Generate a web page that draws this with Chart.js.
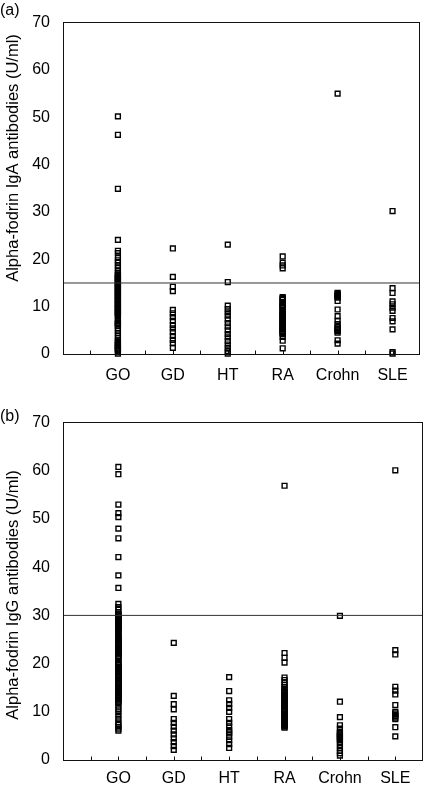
<!DOCTYPE html>
<html><head><meta charset="utf-8">
<script src="https://cdn.jsdelivr.net/npm/chart.js@4"></script>
<style>
html,body{margin:0;padding:0;background:#fff;}
canvas{position:absolute;left:0;}
#ca{top:0;}
#cb{top:400px;}
</style></head><body>
<canvas id="ca" width="432" height="400"></canvas>
<canvas id="cb" width="432" height="390"></canvas>
<script>
const categories = ['GO', 'GD', 'HT', 'RA', 'Crohn', 'SLE'];
const yTickValues = [0, 10, 20, 30, 40, 50, 60, 70];

// Panel (a): IgA (U/ml)
const igaGO = [50.2, 46.3, 34.9, 24.1, 21.8, 21.3, 20.4, 19.8, 19.3, 18.7, 18.2, 17.6,
  17.1, 16.8, 16.7, 16.4, 16.3, 16.1, 15.8, 15.7, 15.5, 15.2, 15.1, 14.9, 14.6, 14.5, 14.3, 14.0, 13.9, 13.7,
  13.4, 13.3, 13.1, 12.9, 12.6, 12.5, 12.3, 12.0, 11.9, 11.7, 11.4, 11.3, 11.1, 10.9, 10.6, 10.5, 10.3, 10.0,
  9.9, 9.7, 9.5, 9.3, 9.0, 8.9, 8.7, 8.4, 8.3, 8.1, 7.9, 7.1, 6.9, 6.6, 6.5, 6.3, 6.0, 5.9,
  5.4, 4.9, 4.4, 3.9, 3.4, 2.9, 2.6, 2.4, 2.2, 1.9, 1.8, 1.6, 1.3, 1.2, 1.0, 0.8, 0.6, 0.1];
const igaGD = [22.3, 16.3, 14.2, 13.3, 9.3, 8.6, 7.8, 7.0, 6.1, 5.4, 4.6, 3.8, 3.0, 2.3, 1.3];
const igaHT = [23.1, 15.2, 10.2, 9.5, 8.8, 8.1, 7.3, 6.5, 5.8, 5.0, 4.2, 3.5, 2.7, 2.0, 1.3, 0.6, 0.1];
const igaRA = [20.6, 19.3, 18.7, 18.1, 12.0, 11.8, 11.6, 11.4, 10.9, 10.7, 10.4, 10.3, 10.1, 9.8, 9.7,
  9.2, 9.0, 8.8, 8.5, 8.4, 8.2, 7.9, 7.8, 7.6, 7.4, 7.1, 7.0, 6.8, 6.5, 6.4, 6.2, 6.0, 5.8, 5.5, 5.4,
  5.2, 4.9, 4.8, 4.6, 4.4, 4.2, 3.6, 2.8, 1.2];
const igaCrohn = [55.0, 12.9, 12.7, 12.5, 12.3, 12.1, 11.9, 11.2, 9.4, 8.0, 7.0, 6.3, 5.7, 5.4, 5.2, 5.0, 4.8, 4.5, 2.9, 2.2];
const igaSLE = [30.2, 13.9, 12.9, 11.1, 10.5, 9.8, 9.1, 7.6, 6.9, 5.2, 0.4, 0.1];
const igaCutoff = 15;

// Panel (b): IgG (U/ml)
const iggGO = [60.8, 59.3, 53.0, 51.2, 50.4, 48.0, 46.0, 42.1, 38.3, 35.7, 32.4, 31.7, 31.2, 30.6,
  30.2, 30.0, 29.8, 29.5, 29.4, 29.2, 28.9, 28.8, 28.6, 28.4, 28.1, 28.0, 27.8, 27.5, 27.4, 27.2, 27.0, 26.8, 26.6,
  25.9, 25.7, 25.5, 25.3, 25.1, 24.9, 24.6, 24.5, 24.3, 24.1, 23.9, 23.6, 23.5, 23.3, 23.0, 22.9, 22.7, 22.5,
  22.2, 22.1, 21.9, 21.6, 21.5, 21.3, 21.1, 20.3, 20.1, 19.9, 19.7, 19.4, 19.3, 19.1, 18.9, 18.6, 18.5, 18.3,
  18.1, 17.9, 17.6, 17.5, 17.3, 17.1, 16.9, 16.6, 16.5, 16.3, 16.0, 15.9, 15.7, 15.5, 15.2, 15.1, 14.9, 14.7,
  14.4, 14.3, 14.1, 13.9, 13.6, 13.5, 13.3, 13.1, 12.9, 12.6, 12.5, 12.3, 12.0, 11.8,
  11.1, 10.5, 9.9, 9.2, 8.5, 7.8, 7.3, 6.9, 6.5, 6.1];
const iggGD = [24.3, 13.3, 11.6, 10.5, 8.5, 7.7, 6.9, 6.1, 5.3, 4.5, 3.7, 2.9, 2.1];
const iggHT = [17.2, 14.3, 12.4, 11.6, 10.8, 10.0, 8.5, 7.7, 7.0, 6.2, 5.8, 5.5, 4.8, 4.1, 3.3, 2.5];
const iggRA = [56.9, 22.2, 21.2, 20.2, 17.1, 16.6, 16.1, 15.6, 15.2, 14.8, 14.4, 14.1, 13.9, 13.6, 13.5,
  13.3, 13.0, 12.9, 12.7, 12.4, 12.3, 12.1, 11.9, 11.7, 11.4, 11.3, 11.1, 10.9, 10.6, 10.5, 10.3, 10.1,
  9.9, 9.6, 9.5, 9.3, 9.0, 8.9, 8.7, 8.5, 8.2, 8.1, 7.9, 7.7, 7.4, 7.3, 7.1, 6.9, 6.7];
const iggCrohn = [29.9, 12.1, 8.9, 7.2, 6.5, 5.8, 5.6, 5.3, 5.1, 4.9, 4.6, 4.4, 4.1, 3.7, 3.1, 2.5, 1.9, 1.4, 0.9];
const iggSLE = [60.1, 22.8, 21.9, 15.2, 14.4, 13.6, 11.4, 10.0, 9.7, 9.4, 9.1, 8.8, 8.5, 6.8, 4.9];
const iggCutoff = 30;

const FONT = "'Liberation Sans', Arial, Helvetica, sans-serif";

const framePlugin = {
  id: 'frame',
  afterDraw(chart, args, o) {
    const ctx = chart.ctx, a = chart.chartArea;
    const L = Math.floor(a.left) + 0.5, R = Math.floor(a.right) - 0.5;
    const T = Math.floor(a.top) + 0.5, B = Math.floor(a.bottom) + 0.5;
    ctx.save();
    ctx.strokeStyle = '#111';
    ctx.lineWidth = 1;
    ctx.strokeRect(L, T, R - L, B - T);
    const xs = chart.scales.x;
    ctx.beginPath();
    for (let i = 1; i <= categories.length * 2; i++) {
      const px = Math.round(xs.getPixelForValue(i / 2)) + 0.5;
      ctx.moveTo(px, B);
      ctx.lineTo(px, B - 4);
    }
    ctx.stroke();
    ctx.fillStyle = '#000';
    ctx.font = '16px ' + FONT;
    ctx.textAlign = 'left';
    ctx.textBaseline = 'middle';
    ctx.fillText(o.label, 0, o.labelY);
    ctx.translate(o.titleX, o.titleY);
    ctx.rotate(-Math.PI / 2);
    ctx.textAlign = 'center';
    ctx.font = '16.5px ' + FONT;
    ctx.fillText(o.title, 0, 0);
    ctx.restore();
  }
};

function makeChart(id, groups, cutoff, cfg) {
  const pts = [];
  groups.forEach((arr, i) => arr.forEach(v => pts.push({x: i + 1, y: v})));
  const xTicks = [];
  for (let i = 0; i <= categories.length * 2 + 1; i++) xTicks.push(i / 2);
  return new Chart(document.getElementById(id), {
    type: 'scatter',
    data: {
      datasets: [
        {type: 'line', data: [{x: 0, y: cutoff}, {x: categories.length + 0.5, y: cutoff}],
         borderColor: '#333', borderWidth: 1, pointRadius: 0, fill: false},
        {data: pts, pointStyle: 'rect', pointRadius: 3.4, pointHoverRadius: 3.4,
         borderColor: '#000', backgroundColor: 'rgba(0,0,0,0)', borderWidth: 1.4, clip: false}
      ]
    },
    options: {
      responsive: false, animation: false, events: [],
      layout: {padding: {left: 0, right: 1, top: cfg.top, bottom: 0}},
      plugins: {legend: {display: false}, tooltip: {enabled: false},
        frame: {label: cfg.label, labelY: cfg.labelY, title: cfg.title, titleX: 13, titleY: cfg.titleY}},
      scales: {
        x: {type: 'linear', min: 0, max: categories.length + 0.5,
            afterBuildTicks: s => { s.ticks = xTicks.map(v => ({value: v})); },
            afterFit: s => { s.height = cfg.xh; },
            ticks: {autoSkip: false, maxRotation: 0, minRotation: 0, padding: cfg.xpad, color: '#000',
                    font: {family: FONT, size: 16},
                    callback: v => (Number.isInteger(v) && v >= 1 && v <= categories.length) ? categories[v - 1] : ''},
            grid: {display: false, drawTicks: false}, border: {display: false}},
        y: {type: 'linear', min: 0, max: 70,
            afterBuildTicks: s => { s.ticks = yTickValues.map(v => ({value: v})); },
            afterFit: s => { s.width = 63; },
            ticks: {padding: 13, color: '#000', font: {family: FONT, size: 16}},
            grid: {display: false, drawTicks: false}, border: {display: false}}
      }
    },
    plugins: [framePlugin]
  });
}

makeChart('ca', [igaGO, igaGD, igaHT, igaRA, igaCrohn, igaSLE], igaCutoff,
  {top: 10.7, xh: 46, xpad: 12, label: '(a)', labelY: 11, title: 'Alpha-fodrin IgA antibodies (U/ml)', titleY: 158});
makeChart('cb', [iggGO, iggGD, iggHT, iggRA, iggCrohn, iggSLE], iggCutoff,
  {top: 16.7, xh: 30, xpad: 9, label: '(b)', labelY: 17, title: 'Alpha-fodrin IgG antibodies (U/ml)', titleY: 195});
</script>
</body></html>
